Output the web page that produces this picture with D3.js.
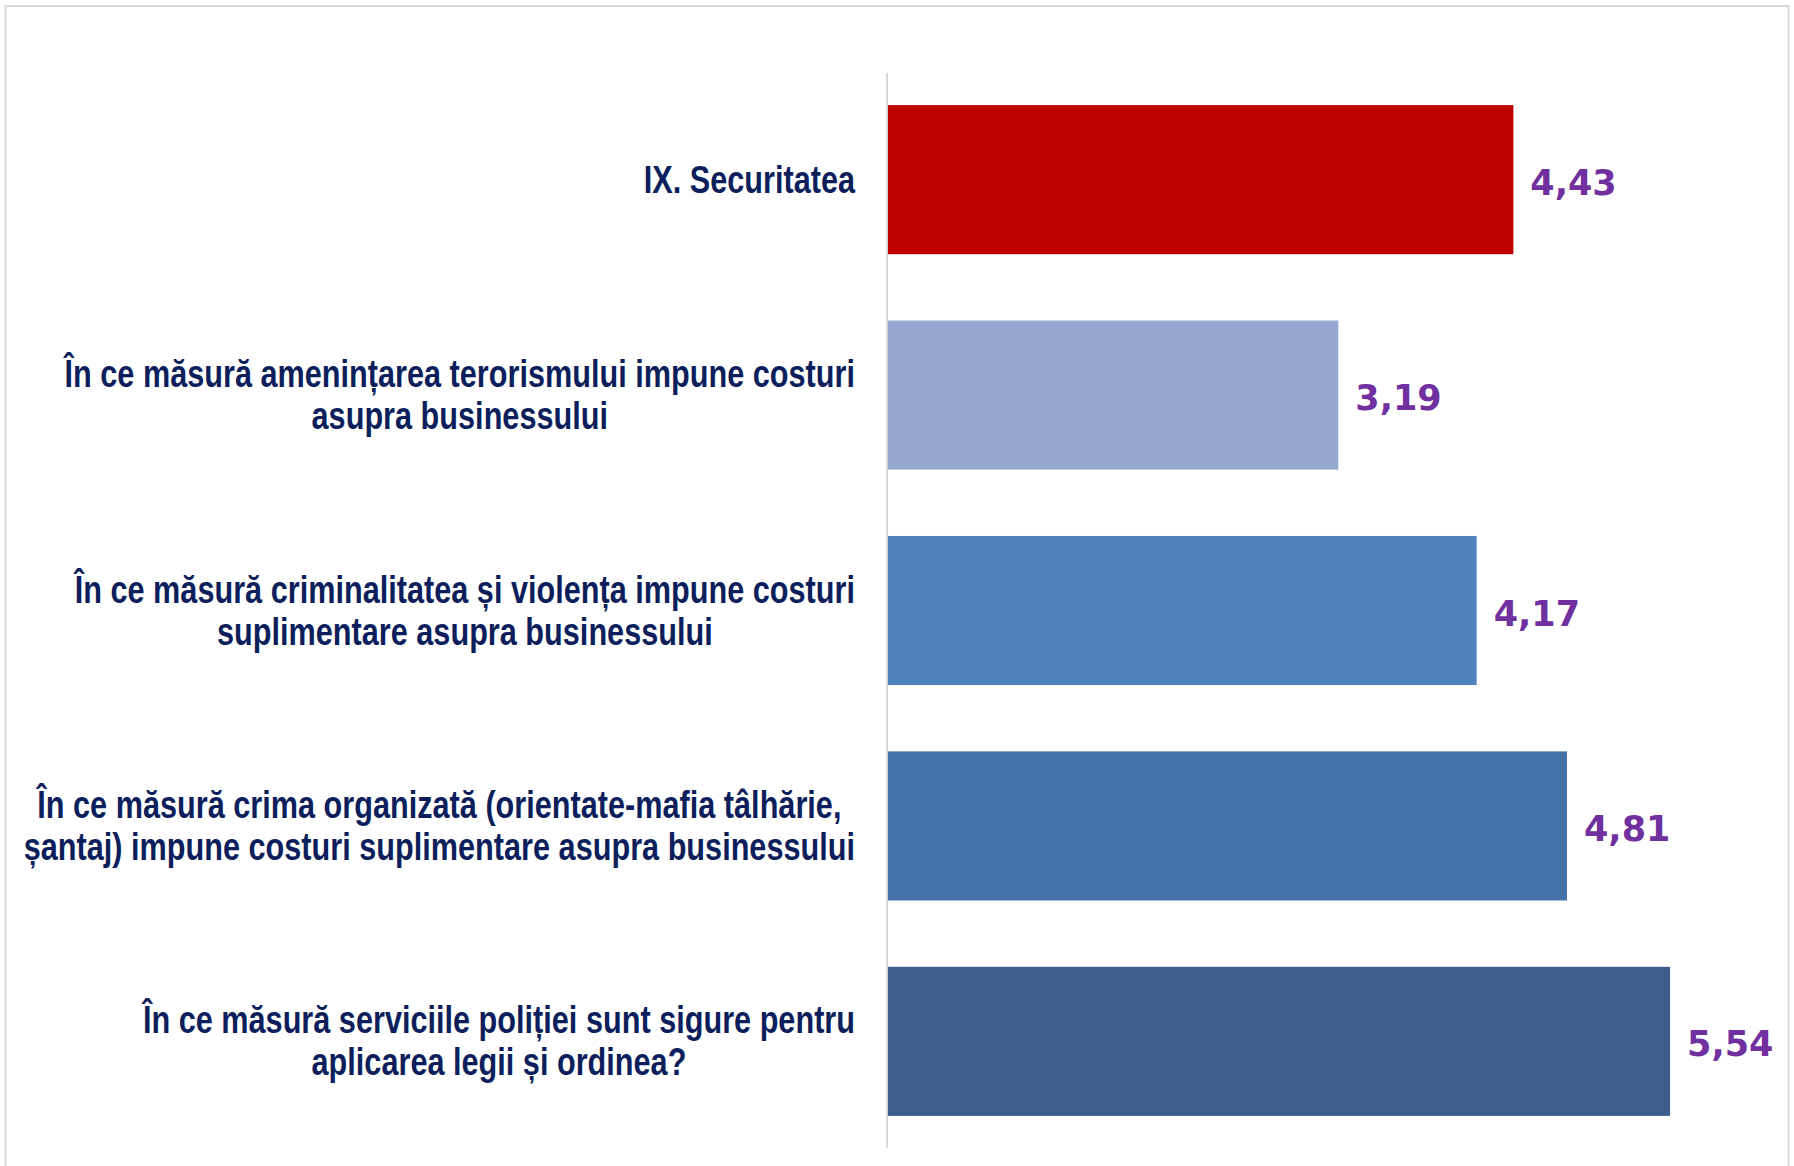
<!DOCTYPE html>
<html>
<head>
<meta charset="utf-8">
<script src="https://cdn.jsdelivr.net/npm/d3@7"></script>
<style>
    body { margin: 0; background: #fff; }
    svg { display: block; }
</style>
</head>
<body>
<div id="chart"></div>
<script>
// categories, top to bottom ("\n" marks the line break in the label)
const categories = [
    "IX. Securitatea",
    "În ce măsură amenințarea terorismului impune costuri\nasupra businessului",
    "În ce măsură criminalitatea și violența impune costuri\nsuplimentare asupra businessului",
    "În ce măsură crima organizată (orientate-mafia tâlhărie,\nșantaj) impune costuri suplimentare asupra businessului",
    "În ce măsură serviciile poliției sunt sigure pentru\naplicarea legii și ordinea?"
];
const values = [4.43, 3.19, 4.17, 4.81, 5.54];
const valueLabels = ["4,43", "3,19", "4,17", "4,81", "5,54"];
const barColors = ["#C00000", "#95A9D0", "#4F81BD", "#4472A6", "#3B5E8C"];

const width = 1794;
const height = 1166;
const axisX = 888;
const labelRight = 855;

const svg = d3.select("#chart")
    .append("svg")
    .attr("width", width)
    .attr("height", height)
    .attr("viewBox", [0, 0, width, height]);

// outer frame (bottom edge runs off the picture)
svg.append("rect")
    .attr("x", 5.5)
    .attr("y", 6)
    .attr("width", 1783)
    .attr("height", 1200)
    .attr("fill", "none")
    .attr("stroke", "#D9D9D9")
    .attr("stroke-width", 2);

const x = d3.scaleLinear()
    .domain([0, 6])
    .range([axisX, axisX + 847]);

const y = d3.scaleBand()
    .domain(d3.range(categories.length))
    .range([73, 1148])
    .paddingInner(0.308)
    .paddingOuter(0.149);

// bars
svg.selectAll(".bar")
    .data(values)
    .join("rect")
    .attr("class", "bar")
    .attr("x", x(0))
    .attr("y", (d, i) => y(i))
    .attr("width", d => x(d) - x(0))
    .attr("height", y.bandwidth())
    .attr("fill", (d, i) => barColors[i]);

// category axis line
svg.append("line")
    .attr("x1", axisX - 1)
    .attr("x2", axisX - 1)
    .attr("y1", 73)
    .attr("y2", 1148)
    .attr("stroke", "#D9D9D9")
    .attr("stroke-width", 2);

// value labels
svg.selectAll(".value-label")
    .data(values)
    .join("text")
    .attr("class", "value-label")
    .attr("x", d => x(d) + 17)
    .attr("y", (d, i) => y(i) + y.bandwidth() / 2 + 15)
    .attr("font-family", "'DejaVu Sans', sans-serif")
    .attr("font-weight", "bold")
    .attr("font-size", "35px")
    .attr("fill", "#7030A0")
    .text((d, i) => valueLabels[i]);

// category labels: narrow bold look, lines centred within the block, block right aligned
const lineGap = 42;
categories.forEach((cat, i) => {
    let lines = cat.split("\n");
    let cy = y(i) + y.bandwidth() / 2;

    let g = svg.append("g")
        .attr("class", "cat-label")
        .attr("transform", `translate(${labelRight}, ${cy}) scale(0.807, 1)`);

    let texts = lines.map((line, j) => {
        return g.append("text")
            .attr("y", (j - (lines.length - 1) / 2) * lineGap + 13)
            .attr("font-family", "'Liberation Sans', Arial, sans-serif")
            .attr("font-weight", "bold")
            .attr("font-size", "38px")
            .attr("fill", "#0C1F5C")
            .attr("text-anchor", "middle")
            .text(line);
    });

    let maxW = d3.max(texts, t => t.node().getComputedTextLength());
    texts.forEach(t => t.attr("x", -maxW / 2));
});
</script>
</body>
</html>
